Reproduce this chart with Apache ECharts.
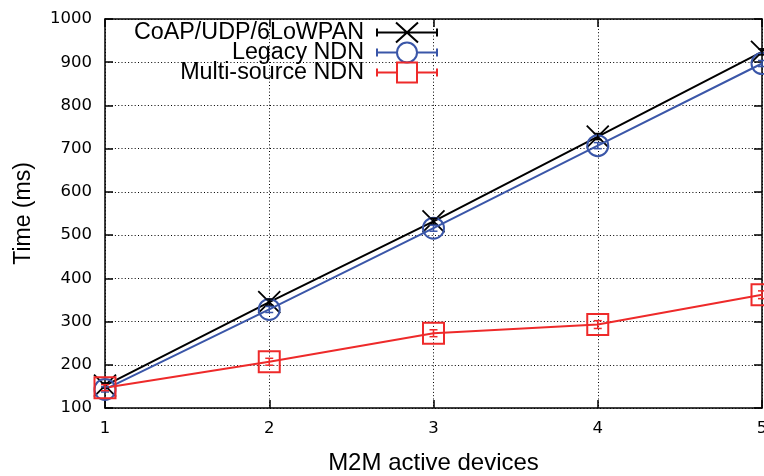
<!DOCTYPE html>
<html>
<head>
<meta charset="utf-8">
<script src="https://cdn.jsdelivr.net/npm/echarts@6/dist/echarts.min.js"></script>
<style>html,body{margin:0;padding:0;background:#fff;}#c{width:764px;height:476px;}</style>
</head>
<body>
<div id="c"></div>
<script>
const devices = [1, 2, 3, 4, 5];
const seriesNames = ['CoAP/UDP/6LoWPAN', 'Legacy NDN', 'Multi-source NDN'];
const coap = [152, 345, 532, 728, 924];
const legacy = [143, 328, 516, 707, 897];
const multi = [147, 207, 273, 293, 362];
const coapErr = [6, 7, 7, 7, 7];
const legacyErr = [6, 7, 7, 7, 7];
const multiErr = [7, 8, 8, 9, 9];
const yTicks = [100, 200, 300, 400, 500, 600, 700, 800, 900, 1000];

const colors = ['#000000', '#3a56a8', '#ee2a2a'];
const markerPaths = [
  'path://M0,0L10,10M10,0L0,10',
  'circle',
  'rect'
];
const legendIcons = [
  'path://M0,6L0,14M0,10L60,10M60,6L60,14M19,0L41,20M41,0L19,20',
  'path://M0,6L0,14M0,10L20,10M40,10L60,10M60,6L60,14M40,10A10,10,0,1,1,20,10A10,10,0,1,1,40,10',
  'path://M0,6L0,14M0,10L20,10M40,10L60,10M60,6L60,14M20,0L40,0L40,20L20,20Z'
];
const allValues = [coap, legacy, multi];
const allErrs = [coapErr, legacyErr, multiErr];

function errRender(color) {
  return function (params, api) {
    const x = api.value(0), y = api.value(1), e = api.value(2);
    const lo = api.coord([x, y - e]);
    const hi = api.coord([x, y + e]);
    const hw = 4;
    const st = { stroke: color, lineWidth: 1.5 };
    return {
      type: 'group',
      children: [
        { type: 'line', shape: { x1: lo[0], y1: lo[1], x2: hi[0], y2: hi[1] }, style: st },
        { type: 'line', shape: { x1: lo[0] - hw, y1: lo[1], x2: lo[0] + hw, y2: lo[1] }, style: st },
        { type: 'line', shape: { x1: hi[0] - hw, y1: hi[1], x2: hi[0] + hw, y2: hi[1] }, style: st }
      ]
    };
  };
}

const series = [];
for (let i = 0; i < 3; i++) {
  series.push({
    name: seriesNames[i],
    type: 'line',
    data: devices.map((d, j) => [d, allValues[i][j]]),
    symbol: markerPaths[i],
    symbolSize: i === 0 ? 22 : 21,
    symbolKeepAspect: false,
    showAllSymbol: true,
    clip: false,
    lineStyle: { color: colors[i], width: 2 },
    itemStyle: { color: 'transparent', borderColor: colors[i], borderWidth: i === 0 ? 1.8 : 2 },
    emphasis: { disabled: true },
    z: 3 + i
  });
  series.push({
    name: seriesNames[i] + ' err',
    type: 'custom',
    renderItem: errRender(colors[i]),
    data: devices.map((d, j) => [d, allValues[i][j], allErrs[i][j]]),
    z: 6 + i,
    silent: true
  });
}

const chart = echarts.init(document.getElementById('c'), null, { renderer: 'canvas' });
const tickFont = { fontFamily: 'DejaVu Sans', fontSize: 16.5, color: '#000' };
const dotted = { color: '#000', width: 1, type: [1, 2.3] };
chart.setOption({
  animation: false,
  backgroundColor: '#fff',
  grid: { left: 105, right: 2, top: 19, bottom: 68, show: false, containLabel: false, outerBoundsMode: 'none' },
  legend: {
    orient: 'vertical',
    right: 326,
    top: 21,
    padding: 0,
    itemGap: -3,
    itemWidth: 60,
    itemHeight: 20,
    align: 'right',
    selectedMode: false,
    textStyle: { fontFamily: 'Liberation Sans', fontSize: 23.3, color: '#000', padding: [0, 8, 0, 0] },
    data: seriesNames.map((n, i) => ({
      name: n,
      icon: legendIcons[i],
      itemStyle: { color: 'transparent', borderColor: colors[i], borderWidth: 2 }
    }))
  },
  xAxis: [{
    type: 'value', min: 1, max: 5, interval: 1,
    name: 'M2M active devices', nameLocation: 'middle', nameGap: 43,
    nameTextStyle: { fontFamily: 'Liberation Sans', fontSize: 24, color: '#000' },
    axisLine: { show: true, lineStyle: { color: '#000', width: 1.5 } },
    axisTick: { show: true, inside: true, length: 8, lineStyle: { color: '#000', width: 1.5 } },
    axisLabel: Object.assign({ margin: 12 }, tickFont),
    splitLine: { show: true, lineStyle: dotted }
  }, {
    type: 'value', min: 1, max: 5, interval: 1, position: 'top',
    axisLine: { show: true, onZero: false, lineStyle: { color: '#000', width: 1.5 } },
    axisTick: { show: true, inside: true, length: 8, lineStyle: { color: '#000', width: 1.5 } },
    axisLabel: { show: false },
    splitLine: { show: false }
  }],
  yAxis: [{
    type: 'value', min: 100, max: 1000, interval: 100,
    name: 'Time (ms)', nameLocation: 'middle', nameGap: 70, nameRotate: 90,
    nameTextStyle: { fontFamily: 'Liberation Sans', fontSize: 23, color: '#000' },
    axisLine: { show: true, lineStyle: { color: '#000', width: 1.5 } },
    axisTick: { show: true, inside: true, length: 8, lineStyle: { color: '#000', width: 1.5 } },
    axisLabel: Object.assign({ margin: 13, formatter: v => (yTicks.indexOf(v) >= 0 ? String(v) : '') }, tickFont),
    splitLine: { show: true, lineStyle: dotted }
  }, {
    type: 'value', min: 100, max: 1000, interval: 100, position: 'right',
    axisLine: { show: true, onZero: false, lineStyle: { color: '#000', width: 1.5 } },
    axisTick: { show: true, inside: true, length: 8, lineStyle: { color: '#000', width: 1.5 } },
    axisLabel: { show: false },
    splitLine: { show: false }
  }],
  series: series
});
</script>
</body>
</html>
